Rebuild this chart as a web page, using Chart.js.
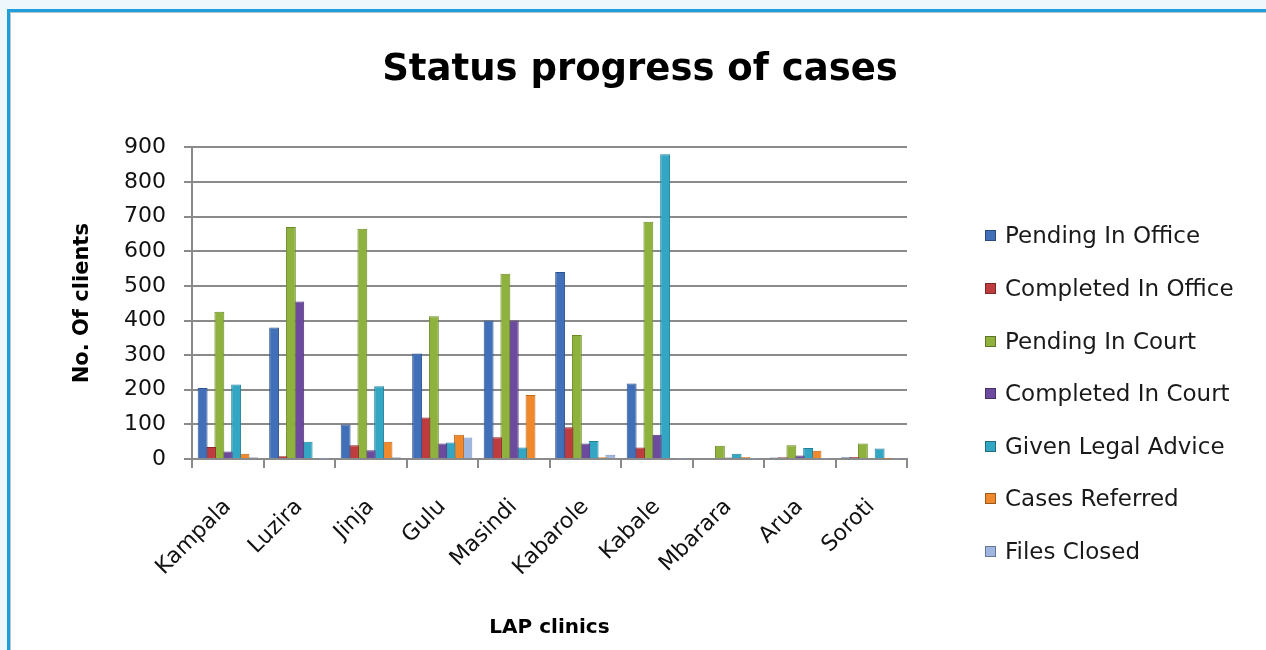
<!DOCTYPE html>
<html>
<head>
<meta charset="utf-8">
<script src="https://cdn.jsdelivr.net/npm/chart.js@4.4.1/dist/chart.umd.min.js"></script>
<style>
  html, body { margin: 0; padding: 0; }
  body { width: 1266px; height: 650px; background: #eef7fc; position: relative; overflow: hidden; }
  #frame { position: absolute; left: 7px; top: 9px; width: 1270px; height: 660px; background: #ffffff;
           border-left: 3px solid #1e9fdc; border-top: 3px solid #1e9fdc; box-shadow: inset 1px 1px 0 #b9c3c9; }
  #wrap { position: absolute; left: 0; top: 0; width: 1266px; height: 650px; }
  #legend { position: absolute; left: 0; top: 0; font-family: "DejaVu Sans", sans-serif; font-size: 23px; color: #1a1a1a; }
  .item { position: absolute; left: 985px; height: 28px; line-height: 28px; white-space: nowrap; }
  .sw { position: absolute; left: 0; top: 9px; width: 9px; height: 9px; border: 1px solid rgba(0,0,0,0.35); }
  .tx { position: absolute; left: 20px; top: 0; }
</style>
</head>
<body>
<div id="frame"></div>
<div id="wrap"><canvas id="c" width="1266" height="650"></canvas></div>
<div id="legend"></div>
<script>
const categories = ['Kampala', 'Luzira', 'Jinja', 'Gulu', 'Masindi', 'Kabarole', 'Kabale', 'Mbarara', 'Arua', 'Soroti'];
const seriesNames = ['Pending In Office', 'Completed In Office', 'Pending In Court', 'Completed In Court', 'Given Legal Advice', 'Cases Referred', 'Files Closed'];
const pendingInOffice   = [205, 380, 100, 305, 400, 540, 218, 3, 4, 5];
const completedInOffice = [35, 8, 40, 120, 63, 92, 33, 3, 5, 6];
const pendingInCourt    = [425, 670, 665, 412, 535, 358, 685, 38, 40, 45];
const completedInCourt  = [22, 455, 25, 45, 400, 45, 70, 4, 10, 3];
const givenLegalAdvice  = [215, 50, 210, 48, 33, 52, 880, 15, 32, 30];
const casesReferred     = [15, 3, 50, 70, 185, 5, 3, 6, 24, 1];
const filesClosed       = [5, 1, 5, 62, 2, 12, 1, 1, 1, 1];
const yTicks = [0, 100, 200, 300, 400, 500, 600, 700, 800, 900];

const seriesValues = [pendingInOffice, completedInOffice, pendingInCourt, completedInCourt, givenLegalAdvice, casesReferred, filesClosed];
const fills   = ['#4170b9', '#be3b3e', '#8fb23e', '#6c4a9e', '#33a6c4', '#f0892c', '#9fb6e0'];
const borders = ['#2c5390', '#8e2528', '#6b8a27', '#4e3377', '#21809a', '#c0661a', '#7b93bf'];

const datasets = seriesNames.map((name, i) => ({
  label: name,
  data: seriesValues[i],
  backgroundColor: fills[i],
  borderColor: borders[i],
  borderWidth: 1,
  categoryPercentage: 0.82,
  barPercentage: 1.18
}));

const legend = document.getElementById('legend');
const legendY = [235, 288, 341, 393, 446, 498, 551];
seriesNames.forEach((name, i) => {
  const d = document.createElement('div');
  d.className = 'item';
  d.style.top = (legendY[i] - 14) + 'px';
  d.innerHTML = '<span class="sw" style="background:' + fills[i] + '"></span><span class="tx">' + name + '</span>';
  legend.appendChild(d);
});

const FONT = '"DejaVu Sans", sans-serif';
new Chart(document.getElementById('c'), {
  type: 'bar',
  data: { labels: categories, datasets },
  options: {
    responsive: false,
    animation: false,
    layout: { padding: { left: 14, top: 0, right: 0, bottom: 0 } },
    plugins: {
      legend: { display: false },
      tooltip: { enabled: false },
      title: {
        display: true,
        text: 'Status progress of cases',
        color: '#000',
        font: { family: FONT, size: 37, weight: 'bold', lineHeight: 1.2 },
        padding: { top: 48, bottom: 55 }
      }
    },
    scales: {
      y: {
        min: 0, max: 900,
        afterFit: (s) => { s.width = 178; },
        afterBuildTicks: (s) => { s.ticks = yTicks.map(v => ({ value: v })); },
        ticks: { color: '#111', font: { family: FONT, size: 22 }, padding: 18 },
        grid: { color: '#8a8a8a', lineWidth: 2, tickLength: 8, drawTicks: true },
        border: { display: true, color: '#8a8a8a', width: 2 },
        title: {
          display: true, text: 'No. Of clients', color: '#000',
          font: { family: FONT, size: 21, weight: 'bold', lineHeight: 1.2 },
          padding: { top: 56 }
        }
      },
      yRight: {
        type: 'linear',
        position: 'right',
        display: true,
        afterFit: (s) => { s.width = 359; },
        ticks: { display: false },
        grid: { display: false, drawOnChartArea: false },
        border: { display: false }
      },
      x: {
        afterFit: (s) => { s.height = 191; },
        ticks: { color: '#111', font: { family: FONT, size: 22 }, minRotation: 45, maxRotation: 45, padding: 26 },
        grid: { display: true, drawOnChartArea: false, drawTicks: true, tickLength: 9, offset: true, color: '#8a8a8a', lineWidth: 2 },
        border: { display: true, color: '#8a8a8a', width: 2 },
        title: {
          display: true, text: 'LAP clinics', color: '#000',
          font: { family: FONT, size: 20, weight: 'bold', lineHeight: 1.2 },
          padding: { bottom: 10 }
        }
      }
    }
  }
});
</script>
</body>
</html>
